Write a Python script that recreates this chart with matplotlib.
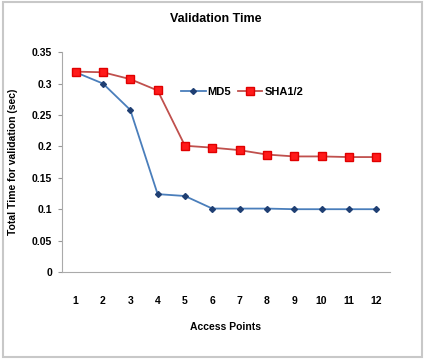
import matplotlib.pyplot as plt
from matplotlib.patches import Rectangle

# data
access_points = ['1', '2', '3', '4', '5', '6', '7', '8', '9', '10', '11', '12']
md5_times = [0.318, 0.300, 0.258, 0.124, 0.121, 0.101, 0.101, 0.101, 0.100, 0.100, 0.100, 0.100]
sha_times = [0.319, 0.318, 0.307, 0.289, 0.201, 0.198, 0.194, 0.187, 0.184, 0.184, 0.183, 0.183]

plt.rcParams['font.family'] = ['Liberation Sans', 'DejaVu Sans']

fig = plt.figure(figsize=(4.32, 3.64), dpi=100)
ax = fig.add_axes([0.1435, 0.2527, 0.759, 0.604])

x = list(range(len(access_points)))
ax.plot(x, md5_times, color='#4a7ebb', lw=1.3, marker='D', ms=3,
        mfc='#1f3f73', mec='#1f3f73', label='MD5')
ax.plot(x, sha_times, color='#c0504d', lw=1.3, marker='s', ms=6,
        mfc='#ff1a1a', mec='#e00000', label='SHA1/2')

ax.set_xlim(-0.5, len(access_points) - 0.5)
ax.set_ylim(0, 0.35)
ax.set_xticks(x)
ax.set_xticklabels(access_points, fontsize=7.5, fontweight='bold')
ax.set_yticks([0, 0.05, 0.1, 0.15, 0.2, 0.25, 0.3, 0.35])
ax.set_yticklabels(['0', '0.05', '0.1', '0.15', '0.2', '0.25', '0.3', '0.35'],
                   fontsize=7.5, fontweight='bold')
ax.tick_params(axis='x', length=0, pad=17)
ax.tick_params(axis='y', length=3, color='#999999', pad=4)
for s in ['top', 'right']:
    ax.spines[s].set_visible(False)
for s in ['left', 'bottom']:
    ax.spines[s].set_color('#aaaaaa')

ax.set_xlabel('Access Points', fontsize=7.5, fontweight='bold', labelpad=12)
ax.set_ylabel('Total Time for validation (sec)', fontsize=7.5, fontweight='bold', labelpad=10)
fig.text(0.5, 0.948, 'Validation Time', ha='center', va='center',
         fontsize=9, fontweight='bold')

ax.legend(loc='center', bbox_to_anchor=(0.55, 0.82), ncol=2, frameon=False,
          handlelength=2.2, columnspacing=0.6, handletextpad=0.2,
          prop={'weight': 'bold', 'size': 8})

fig.add_artist(Rectangle((0.008, 0.02), 0.97, 0.975, transform=fig.transFigure,
                         fill=False, edgecolor='#c8c8c8', lw=1.5))

plt.savefig('out.png', dpi=100)
